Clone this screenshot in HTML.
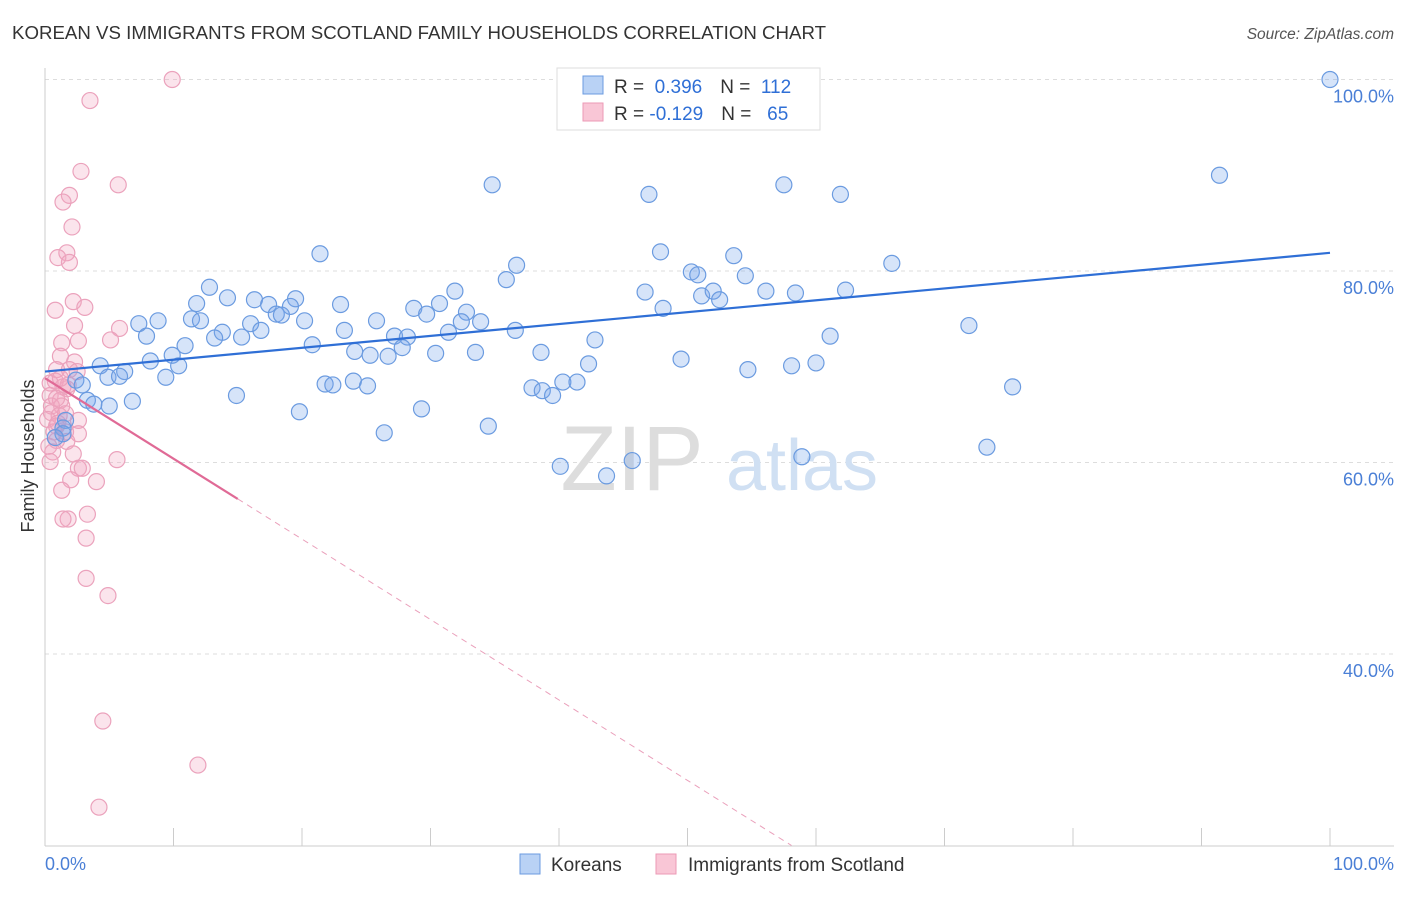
<!DOCTYPE html>
<html><head><meta charset="utf-8"><style>
body{margin:0;background:#fff;font-family:"Liberation Sans",sans-serif}
svg text{font-family:"Liberation Sans",sans-serif}
</style></head><body>
<svg id="chart" width="1406" height="892" xmlns="http://www.w3.org/2000/svg">
<text x="12" y="39" font-size="18" fill="#333" textLength="814" lengthAdjust="spacingAndGlyphs">KOREAN VS IMMIGRANTS FROM SCOTLAND FAMILY HOUSEHOLDS CORRELATION CHART</text>
<text x="1394" y="39" font-size="15.5" fill="#555" text-anchor="end" font-style="italic">Source: ZipAtlas.com</text>
<g id="grid"></g>
<g>
<text x="632" y="490" font-size="92" fill="#ddd" text-anchor="middle" font-family="Liberation Serif">ZIP</text>
<text x="802" y="490" font-size="72" fill="#d0e0f3" text-anchor="middle">atlas</text>
</g>
<line x1="45" y1="68" x2="45" y2="846" stroke="#ccc"/>
<line x1="45" y1="846" x2="1394" y2="846" stroke="#ccc"/>
<g id="ticks"></g>
<g id="ylabels"></g>
<text x="45" y="870" font-size="18" fill="#4a7fd6">0.0%</text>
<text x="1394" y="870" font-size="18" fill="#4a7fd6" text-anchor="end">100.0%</text>
<text transform="translate(34,456) rotate(-90)" font-size="18" fill="#333" text-anchor="middle">Family Households</text>
<g id="pink"></g>
<g id="blue"></g>
<g id="lines"></g>
<g>
<rect x="557" y="68" width="263" height="62" fill="#fff" stroke="#ddd"/>
<rect x="583" y="76" width="20" height="18" fill="#b9d2f5" stroke="#6b9be0"/>
<rect x="583" y="103" width="20" height="18" fill="#f9c6d6" stroke="#ec9ab6"/>
<text x="614" y="93" font-size="19" fill="#333">R = <tspan fill="#2f6fd6">&#160;0.396</tspan><tspan dx="18">N = </tspan><tspan fill="#2f6fd6">&#160;112</tspan></text>
<text x="614" y="120" font-size="19" fill="#333">R = <tspan fill="#2f6fd6">-0.129</tspan><tspan dx="18">N = </tspan><tspan fill="#2f6fd6">&#160;&#160;65</tspan></text>
</g>
<g>
<rect x="520" y="854" width="20" height="20" fill="#b9d2f5" stroke="#6b9be0"/>
<text x="551" y="871" font-size="19" fill="#333">Koreans</text>
<rect x="656" y="854" width="20" height="20" fill="#f9c6d6" stroke="#ec9ab6"/>
<text x="688" y="871" font-size="19" fill="#333">Immigrants from Scotland</text>
</g>
</svg>
<script>
const yTicks=[40,60,80,100];
const yTickLabels=["40.0%","60.0%","80.0%","100.0%"];
const xTicks=[0,10,20,30,40,50,60,70,80,90,100];
const koreanX=[100,91.4,34.8,47.0,57.5,61.9,21.4,47.9,36.7,53.6,65.9,50.3,50.8,54.5,12.8,35.9,14.2,16.3,11.8,17.4,19.5,19.1,18.0,18.4,23.0,28.7,30.7,31.9,32.8,29.7,11.4,12.1,20.2,25.8,32.4,33.9,7.3,8.8,16.0,16.8,13.8,13.2,15.3,7.9,23.3,27.2,28.2,31.4,36.6,42.8,46.7,48.1,51.1,52.0,52.5,56.1,58.4,62.3,71.9,61.1,20.8,24.1,25.3,26.7,27.8,30.4,33.5,38.6,10.9,9.9,8.2,4.3,10.4,6.2,4.9,5.8,9.4,42.3,49.5,58.1,60.0,54.7,2.4,2.9,21.8,22.4,24.0,25.1,37.9,38.7,39.5,40.3,41.4,14.9,3.3,3.8,5.0,6.8,19.8,29.3,75.3,1.6,1.4,1.4,0.8,34.5,26.4,40.1,43.7,45.7,58.9,73.3];
const koreanY=[100,90.0,89.0,88.0,89.0,88.0,81.8,82.0,80.6,81.6,80.8,79.9,79.6,79.5,78.3,79.1,77.2,77.0,76.6,76.5,77.1,76.3,75.5,75.4,76.5,76.1,76.6,77.9,75.7,75.5,75.0,74.8,74.8,74.8,74.7,74.7,74.5,74.8,74.5,73.8,73.6,73.0,73.1,73.2,73.8,73.2,73.1,73.6,73.8,72.8,77.8,76.1,77.4,77.9,77.0,77.9,77.7,78.0,74.3,73.2,72.3,71.6,71.2,71.1,72.0,71.4,71.5,71.5,72.2,71.2,70.6,70.1,70.1,69.5,68.9,69.0,68.9,70.3,70.8,70.1,70.4,69.7,68.6,68.1,68.2,68.1,68.5,68.0,67.8,67.5,67.0,68.4,68.4,67.0,66.5,66.1,65.9,66.4,65.3,65.6,67.9,64.4,63.6,63.0,62.6,63.8,63.1,59.6,58.6,60.2,60.6,61.6];
const scotX=[9.9,3.5,2.8,5.7,1.9,1.4,2.1,1.7,1.0,1.9,2.2,3.1,0.8,2.3,5.8,5.1,1.3,2.6,1.2,2.3,0.9,1.9,2.5,0.8,0.4,1.4,1.7,0.4,1.2,0.5,1.3,0.5,1.1,0.2,2.6,0.9,1.6,2.6,0.9,1.7,0.3,0.6,2.2,5.6,0.4,2.6,2.9,2.0,4.0,1.3,3.3,1.8,1.4,3.2,3.2,4.9,4.5,11.9,4.2,1.8,1.2,0.7,1.0,1.6,0.9];
const scotY=[100,97.8,90.4,89.0,87.9,87.2,84.6,81.9,81.4,80.9,76.8,76.2,75.9,74.3,74.0,72.8,72.5,72.7,71.1,70.5,69.7,69.7,69.5,68.5,68.3,67.9,67.7,67.0,66.5,65.9,65.9,65.2,64.9,64.5,64.4,63.8,63.2,63.0,62.3,62.2,61.7,61.1,60.9,60.3,60.1,59.4,59.4,58.2,58.0,57.1,54.6,54.1,54.1,52.1,47.9,46.1,33.0,28.4,24.0,68.1,68.8,63.2,64.1,65.1,66.7];
const koreanTrend=[69.5,81.9];
const scotTrend=[68.8,-0.84];
const scotSolidEnd=15;
const NS="http://www.w3.org/2000/svg";
const sx=v=>45+v*12.85, sy=v=>1037-v*9.575;
function mk(t,a,p){const e=document.createElementNS(NS,t);for(const k in a)e.setAttribute(k,a[k]);p.appendChild(e);return e;}
const grid=document.getElementById('grid');
yTicks.forEach((t,i)=>{
 const l=mk('line',{x1:45,x2:1394,y1:sy(t),y2:sy(t),stroke:'#ddd','stroke-dasharray':'4,4'},grid);
 
 
 const tx=mk('text',{x:1394,y:sy(t)+23,'font-size':18,fill:'#4a7fd6','text-anchor':'end'},document.getElementById('ylabels'));
 tx.textContent=yTickLabels[i];
 
 
});
xTicks.forEach(t=>{
 const l=mk('line',{x1:sx(t),x2:sx(t),y1:828,y2:846,stroke:'#ccc'},document.getElementById('ticks'));
 
 
});
const pg=document.getElementById('pink');
scotX.forEach((x,i)=>{
 const c=mk('circle',{cx:sx(x),cy:sy(scotY[i]),r:8,fill:'rgba(243,165,192,0.3)',stroke:'#eba2bc','stroke-width':1.2},pg);
 
 
});
const bg=document.getElementById('blue');
koreanX.forEach((x,i)=>{
 const c=mk('circle',{cx:sx(x),cy:sy(koreanY[i]),r:8,fill:'rgba(120,165,235,0.3)',stroke:'#6b9be0','stroke-width':1.2},bg);
 
 
});
const lg=document.getElementById('lines');
const bl=mk('line',{x1:sx(0),y1:sy(koreanTrend[0]),x2:sx(100),y2:sy(koreanTrend[1]),stroke:'#2f6fd6','stroke-width':2.2},lg);


const pyAt=x=>scotTrend[0]+scotTrend[1]*x;
const ps=mk('line',{x1:sx(0),y1:sy(pyAt(0)),x2:sx(scotSolidEnd),y2:sy(pyAt(scotSolidEnd)),stroke:'#e06a96','stroke-width':2.2},lg);


const xEnd=(20-scotTrend[0])/scotTrend[1];
const pd=mk('line',{x1:sx(scotSolidEnd),y1:sy(pyAt(scotSolidEnd)),x2:sx(xEnd),y2:sy(20),stroke:'#eaa0bb','stroke-width':1,'stroke-dasharray':'6,5'},lg);


</script>
</body></html>
